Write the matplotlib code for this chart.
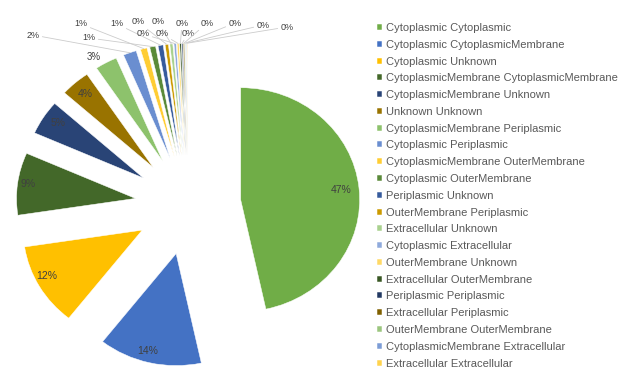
import matplotlib
matplotlib.use("Agg")
import numpy as np
import matplotlib.pyplot as plt

plt.rcParams['font.family'] = ['Liberation Sans', 'DejaVu Sans']

categories = [
    "Cytoplasmic Cytoplasmic",
    "Cytoplasmic CytoplasmicMembrane",
    "Cytoplasmic Unknown",
    "CytoplasmicMembrane CytoplasmicMembrane",
    "CytoplasmicMembrane Unknown",
    "Unknown Unknown",
    "CytoplasmicMembrane Periplasmic",
    "Cytoplasmic Periplasmic",
    "CytoplasmicMembrane OuterMembrane",
    "Cytoplasmic OuterMembrane",
    "Periplasmic Unknown",
    "OuterMembrane Periplasmic",
    "Extracellular Unknown",
    "Cytoplasmic Extracellular",
    "OuterMembrane Unknown",
    "Extracellular OuterMembrane",
    "Periplasmic Periplasmic",
    "Extracellular Periplasmic",
    "OuterMembrane OuterMembrane",
    "CytoplasmicMembrane Extracellular",
    "Extracellular Extracellular",
]
shares = [46.6, 14.0, 12.0, 9.0, 5.0, 4.0, 3.0, 1.8, 0.9, 0.8, 0.7,
          0.45, 0.4, 0.3, 0.25, 0.2, 0.15, 0.15, 0.1, 0.1, 0.1]
colors = [
    "#70AD47", "#4472C4", "#FFC000",
    "#436829", "#294476", "#997300",
    "#8DC26C", "#6A8ED0", "#FFCD33",
    "#5A8A39", "#365B9D", "#CC9A00",
    "#A9D18E", "#8FAADC", "#FFD966",
    "#385723", "#223962", "#806000",
    "#9BC67E", "#7C9CD6", "#FFD34D",
]

W, H = 618, 369
RX, RY = 119.0, 112.0  # pie radius in pixels (horizontal, vertical)
CX, CY = 188.0, 205.0  # pie centre in pixels (from top-left)


def px(x, y):
    """pixel position (from top-left) -> data coordinates"""
    return ((x - CX) / RX, (CY - y) / RY)


fig = plt.figure(figsize=(W / 100, H / 100), dpi=100)
ax = fig.add_axes([0, 0, 1, 1])

wedges, _ = ax.pie(shares, explode=[0.445] * len(shares), startangle=90,
                   counterclock=False, colors=colors, radius=1,
                   wedgeprops=dict(edgecolor="white", linewidth=0.35))
ax.set_aspect("auto")
ax.set_xlim(-CX / RX, (W - CX) / RX)
ax.set_ylim(-(H - CY) / RY, CY / RY)
ax.axis("off")

total = sum(shares)
labels = ["%.0f%%" % (100 * v / total) for v in shares]

# labels on the slice bisector: (distance factor, pixel nudge)
inside = {0: (0.85, (0, 0)), 1: (0.84, (-6, 6)), 2: (0.9, (-3, -5)),
          3: (0.95, (5, 0)), 4: (0.88, (3, -2)), 5: (0.87, (0, 0))}
for i, (f, (nx, ny)) in inside.items():
    w = wedges[i]
    th = np.deg2rad((w.theta1 + w.theta2) / 2)
    cx, cy = w.center
    ax.text(cx + f * np.cos(th) + nx / RX, cy + f * np.sin(th) - ny / RY,
            labels[i], ha="center", va="center", fontsize=7.5, color="#404040")

# the 3% slice is labelled just outside its end
ax.text(*px(94, 57), labels[6], ha="center", va="center",
        fontsize=7, color="#404040")

# small slices: labels above the pie with leader lines
outside_px = [(33, 35), (81, 24), (89, 38), (117, 24),
              (138, 22), (158, 22), (143, 34), (162, 34), (182, 23),
              (188, 33), (207, 23), (235, 23), (263, 25), (287, 27)]
for i, (lx, ly) in zip(range(7, len(shares)), outside_px):
    w = wedges[i]
    th = np.deg2rad((w.theta1 + w.theta2) / 2)
    cx, cy = w.center
    tip = (cx + np.cos(th), cy + np.sin(th))
    ax.annotate(labels[i], xy=tip, xytext=px(lx, ly), ha="center", va="center",
                fontsize=6.5, color="#404040",
                arrowprops=dict(arrowstyle="-", color="#CCCCCC", lw=0.6,
                                shrinkA=0, shrinkB=0))

ax.legend(wedges, categories, loc="upper left",
          bbox_to_anchor=(377 / W, 1 - 23 / H), bbox_transform=fig.transFigure,
          frameon=False, fontsize=8, labelcolor="#595959",
          handlelength=0.45, handleheight=0.45, handletextpad=0.35,
          labelspacing=0.61, borderpad=0, borderaxespad=0)

fig.savefig("out.png", dpi=100)
